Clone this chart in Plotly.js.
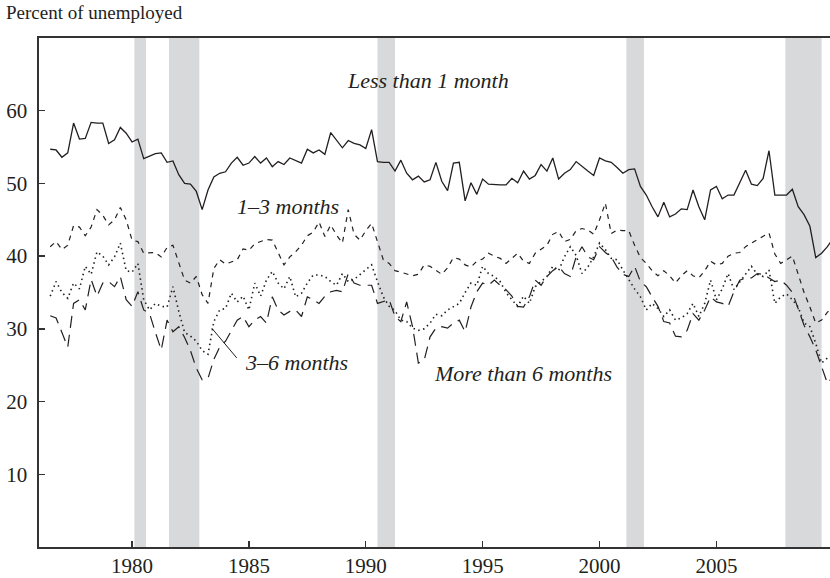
<!DOCTYPE html>
<html>
<head>
<meta charset="utf-8">
<script src="https://cdn.plot.ly/plotly-3.0.1.min.js"></script>
<style>
  html, body { margin: 0; padding: 0; background: #ffffff; }
  #chart { width: 830px; height: 578px; }
</style>
</head>
<body>
<div id="chart"></div>
<script>
// Quarterly series, first observation at 1976.5, step of one quarter
const firstQuarter = 1976.5;
const quarterStep = 0.25;

const lessThan1Month = [54.7,54.6,53.6,54.2,58.3,56.1,56.2,58.4,58.3,58.3,
  55.5,56.0,57.7,56.9,55.7,56.1,53.4,53.7,54.1,54.2,
  52.9,53.1,51.2,50.0,49.9,48.9,46.4,49.1,50.9,51.4,
  51.6,52.8,53.6,52.5,52.8,53.7,52.8,53.5,52.3,53.0,
  52.6,53.5,53.2,52.8,54.7,54.2,54.6,54.0,57.0,56.0,
  54.9,55.9,55.5,55.3,54.8,57.4,53.0,52.9,52.9,51.7,
  53.2,51.4,50.5,51.0,50.2,50.5,52.9,50.3,49.0,52.8,
  52.9,47.6,50.1,48.5,50.6,49.9,49.8,49.8,49.8,50.7,
  50.1,51.7,50.6,51.1,52.6,51.7,53.5,50.6,51.4,51.9,
  53.0,52.3,51.7,51.1,53.5,53.1,52.9,52.2,51.4,51.9,
  52.0,49.6,48.4,46.8,45.4,47.4,45.4,45.8,46.5,46.4,
  49.1,46.8,45.0,49.1,49.6,47.9,48.4,48.4,50.1,51.8,
  49.9,49.7,50.7,54.5,48.4,48.4,48.4,49.2,46.8,45.7,
  44.1,39.8,40.4,41.3,42.5];

const oneToThreeMonths = [41.3,42.0,40.9,41.5,44.2,44.0,42.8,44.0,46.4,45.6,
  44.3,45.0,46.7,45.0,42.2,42.0,40.4,40.5,40.5,39.9,
  41.2,41.5,39.0,36.7,36.3,37.2,34.7,33.5,38.3,39.5,
  38.9,39.2,39.5,41.0,40.8,41.7,42.0,42.3,42.2,40.4,
  38.8,39.9,40.6,41.5,42.8,43.3,44.7,42.7,44.3,42.9,
  41.8,46.4,43.0,42.2,43.5,44.5,42.0,39.5,39.0,38.0,
  37.8,37.5,37.3,37.5,38.8,38.6,38.0,37.5,38.4,39.8,
  39.6,38.8,38.5,39.3,39.6,40.4,40.0,39.7,39.0,39.7,
  40.4,39.3,39.0,40.4,40.9,41.5,43.0,43.4,42.0,42.3,
  43.5,43.8,43.6,43.0,45.0,47.3,43.1,43.6,43.5,43.5,
  41.5,39.8,39.0,38.0,37.3,38.0,37.3,36.3,37.3,38.0,
  37.3,37.0,38.0,39.3,38.8,39.0,40.0,40.4,40.5,41.3,
  41.8,42.3,42.8,43.2,40.3,39.0,39.5,40.0,37.5,35.0,
  33.0,30.8,31.2,32.3,33.0];

const threeToSixMonths = [34.5,36.5,35.0,34.2,36.3,35.5,38.6,37.5,40.6,40.0,
  38.8,39.9,41.8,38.0,37.8,39.0,34.0,32.6,33.5,33.1,
  33.0,35.8,32.4,29.5,29.0,28.3,27.0,26.5,31.0,32.6,
  32.8,34.9,33.7,34.5,32.6,36.3,34.5,36.7,37.9,36.3,
  35.5,37.2,34.4,34.9,36.3,37.4,37.4,37.2,36.5,36.0,
  37.6,36.5,36.8,37.5,38.1,38.8,36.5,34.4,33.1,32.5,
  31.2,31.0,30.1,29.8,30.0,30.8,32.0,31.8,32.6,33.0,
  33.5,35.0,36.3,36.0,38.6,37.6,37.2,36.5,35.0,34.0,
  33.1,34.5,33.5,35.8,36.5,37.2,38.6,38.0,39.9,41.3,
  40.1,37.6,38.5,39.9,41.8,40.9,39.7,39.5,38.1,36.7,
  35.5,34.4,32.6,33.5,32.8,31.7,32.6,31.2,31.5,32.1,
  33.5,31.7,33.5,36.7,34.0,35.5,37.6,35.4,36.5,37.6,
  38.6,37.5,37.2,38.1,33.5,34.4,34.8,34.0,33.0,30.8,
  30.3,28.0,25.3,26.0,26.5];

const moreThan6Months = [31.8,31.5,29.5,27.5,33.5,34.0,32.6,36.8,34.5,36.3,
  36.5,35.8,37.2,34.0,33.1,35.1,32.6,32.1,29.5,27.1,
  31.2,29.6,30.3,28.8,27.0,24.6,23.0,23.2,25.8,27.5,
  28.3,29.8,31.2,31.7,30.3,31.2,31.7,30.8,34.4,32.6,
  31.9,32.4,32.6,31.7,34.4,34.0,33.5,34.5,35.1,35.3,
  35.1,37.6,36.3,36.0,36.0,36.0,33.5,33.7,34.0,31.7,
  31.0,33.7,30.3,25.3,25.7,28.9,30.1,30.3,30.1,30.8,
  31.2,29.6,33.0,35.1,36.3,36.0,36.7,36.0,35.4,34.5,
  33.1,33.0,34.4,36.7,36.0,37.2,38.0,38.6,37.6,37.2,
  39.9,41.3,39.9,39.5,41.3,40.5,39.9,38.5,37.5,37.2,
  38.6,36.5,35.8,34.4,33.1,31.0,30.8,29.0,28.9,29.8,
  32.1,31.2,32.6,34.4,33.7,33.5,33.1,35.1,36.7,37.0,
  37.0,37.6,37.5,37.0,36.5,36.7,36.0,35.0,32.6,30.5,
  28.9,27.1,24.8,22.5,23.5];

// Recessions (start, end) in fractional years
const recessionStart = [1980.1, 1981.58, 1990.5, 2001.15, 2007.95];
const recessionEnd   = [1980.6, 1982.88, 1991.25, 2001.9, 2009.5];

const xTickVals = [1980, 1985, 1990, 1995, 2000, 2005];
const yTickVals = [10, 20, 30, 40, 50, 60];

const seriesLabels = ['Less than 1 month', '1–3 months', '3–6 months', 'More than 6 months'];

function quarters(n) {
  const out = [];
  for (let i = 0; i < n; i++) out.push(firstQuarter + i * quarterStep);
  return out;
}

const ink = '#231f20';
const serif = '"Liberation Serif", "Times New Roman", Times, serif';

function lineTrace(vals, name, dash, width) {
  return {
    type: 'scatter', mode: 'lines', name: name,
    x: quarters(vals.length), y: vals,
    line: { color: ink, width: width, dash: dash },
    hoverinfo: 'skip'
  };
}

const traces = [
  lineTrace(lessThan1Month, seriesLabels[0], 'solid', 1.3),
  lineTrace(oneToThreeMonths, seriesLabels[1], '5px,5px', 1.2),
  lineTrace(threeToSixMonths, seriesLabels[2], '1.5px,3.5px', 1.6),
  lineTrace(moreThan6Months, seriesLabels[3], '12px,7px', 1.2)
];

const shapes = recessionStart.map((s, i) => ({
  type: 'rect', xref: 'x', yref: 'paper', x0: s, x1: recessionEnd[i], y0: 0, y1: 1,
  fillcolor: '#d8d9db', line: { width: 0 }, layer: 'below'
}));
// leader line for the 3–6 months label
shapes.push({
  type: 'line', xref: 'x', yref: 'y', x0: 1983.41, y0: 30.1, x1: 1984.48, y1: 26.0,
  line: { color: ink, width: 1 }
});

const labelFont = { family: serif, size: 22, color: ink, style: 'italic' };

const annotations = [
  { text: 'Percent of unemployed', xref: 'paper', yref: 'paper', x: -0.0442, y: 1.051,
    xanchor: 'left', yanchor: 'middle', showarrow: false,
    font: { family: serif, size: 19, color: ink } },
  { text: seriesLabels[0], xref: 'x', yref: 'y', x: 1989.1, y: 64.1,
    xanchor: 'left', yanchor: 'middle', showarrow: false, font: labelFont },
  { text: seriesLabels[1], xref: 'x', yref: 'y', x: 1984.4, y: 46.8,
    xanchor: 'left', yanchor: 'middle', showarrow: false, font: labelFont },
  { text: seriesLabels[2], xref: 'x', yref: 'y', x: 1984.75, y: 25.4,
    xanchor: 'left', yanchor: 'middle', showarrow: false, font: labelFont },
  { text: seriesLabels[3], xref: 'x', yref: 'y', x: 1992.83, y: 23.9,
    xanchor: 'left', yanchor: 'middle', showarrow: false, font: labelFont }
];

const layout = {
  width: 830, height: 578,
  margin: { l: 39, r: 0, t: 38, b: 31, pad: 0 },
  paper_bgcolor: '#ffffff', plot_bgcolor: '#ffffff',
  showlegend: false,
  xaxis: {
    range: [1976.02, 2009.86], tickvals: xTickVals, ticktext: xTickVals.map(String),
    ticks: 'inside', ticklen: 6, tickwidth: 1.3, tickcolor: '#333',
    showline: true, linecolor: '#333', linewidth: 1.6, mirror: true,
    showgrid: false, zeroline: false, ticklabelstandoff: -1,
    tickfont: { family: serif, size: 21, color: ink }
  },
  yaxis: {
    range: [0, 70], tickvals: yTickVals, ticktext: yTickVals.map(String),
    ticks: 'inside', ticklen: 6, tickwidth: 1.3, tickcolor: '#333',
    showline: true, linecolor: '#333', linewidth: 1.6, mirror: false,
    showgrid: false, zeroline: false, ticklabelstandoff: 6,
    tickfont: { family: serif, size: 21, color: ink }
  },
  shapes: shapes,
  annotations: annotations
};

Plotly.newPlot('chart', traces, layout, { staticPlot: true, displayModeBar: false });
</script>
</body>
</html>
